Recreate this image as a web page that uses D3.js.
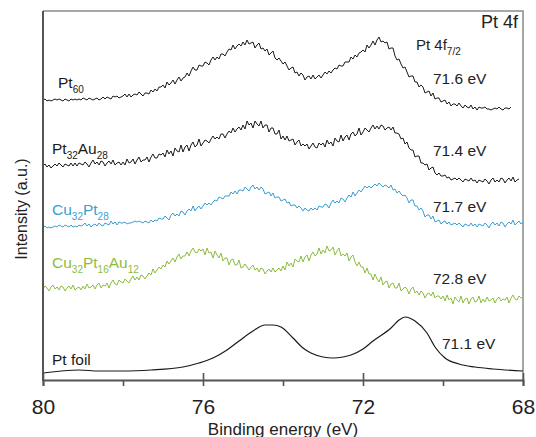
<!DOCTYPE html>
<html>
<head>
<meta charset="utf-8">
<script src="https://cdn.jsdelivr.net/npm/d3@7"></script>
<style>
  body { margin: 0; background: #fff; }
  svg { display: block; font-family: "Liberation Sans", Arial, sans-serif; }
</style>
</head>
<body>
<div id="chart"></div>
<script>
// binding energy grid (eV): spectra recorded from 80 eV downwards in 0.05 eV steps
const eStart = 80;
const eStep = 0.05;

// Pt60 intensity (a.u., stacked), one row per eV
const pt60 = [
  280,281,279,280,279,280,281,280,281,280,279,281,280,279,281,280,281,280,281,280,
  282,281,280,282,281,280,281,282,280,281,283,281,283,282,281,284,283,284,282,283,
  284,286,283,286,283,285,286,285,288,286,284,287,287,286,290,288,291,289,293,293,
  295,292,298,295,297,300,296,300,303,299,302,303,307,304,309,313,310,310,315,314,
  314,318,317,315,320,323,320,323,321,326,326,324,328,331,330,335,331,334,336,334,
  338,335,340,336,337,338,332,335,337,331,332,329,331,325,327,329,322,320,322,319,
  316,318,314,310,312,313,307,308,304,307,305,300,303,304,301,305,301,303,305,302,
  305,308,306,309,307,310,312,311,315,314,314,318,318,318,323,321,325,323,327,328,
  330,328,335,332,335,339,335,340,343,338,339,337,338,331,332,332,324,320,321,316,
  312,313,308,303,304,304,298,298,293,295,293,287,288,289,284,287,281,282,282,278,
  279,280,276,278,274,276,276,274,277,274,272,275,273,272,275,271,273,270,273,272,
  272,273,271,271,270,271,272,271,273,271,270,272,272,271,273
];

// Pt32Au28
const pt32au28 = [
  214,216,213,215,212,214,216,214,217,215,213,216,215,214,217,214,217,214,217,216,
  215,218,216,213,217,220,216,218,215,219,218,214,217,219,216,220,215,217,218,215,
  218,215,221,217,218,221,216,220,223,218,220,220,223,218,223,226,222,222,226,225,
  227,223,230,226,229,224,232,229,228,235,228,233,235,229,235,238,233,235,241,234,
  237,240,239,237,241,244,241,243,241,246,246,242,246,249,247,252,248,251,253,250,
  255,251,259,255,257,252,259,256,254,259,252,255,255,248,252,252,246,246,250,241,
  244,240,244,239,240,241,235,238,240,234,236,234,236,231,234,237,233,232,237,235,
  237,233,240,236,238,234,242,239,238,245,239,243,245,240,246,248,244,246,252,245,
  248,252,250,248,252,255,251,254,251,255,254,250,252,253,250,253,247,247,246,241,
  242,236,238,232,230,230,223,224,224,217,217,215,216,210,212,213,207,205,207,204,
  204,205,202,203,200,201,202,200,202,200,198,201,200,199,202,199,200,197,200,199,
  198,201,199,196,200,202,198,200,198,202,201,197,200,202,199,203,198,200,201
];

// Cu32Pt28
const cu32pt28 = [
  153,154,152,153,152,153,154,153,155,154,153,155,154,153,155,153,154,153,155,154,
  155,157,154,156,153,155,156,154,157,155,154,157,156,155,159,156,158,155,158,157,
  157,158,156,157,157,158,159,158,159,158,157,159,158,157,160,158,160,159,162,161,
  161,164,162,160,165,167,164,166,164,169,168,165,169,171,169,174,169,172,174,171,
  174,177,175,177,175,178,180,179,183,182,181,184,184,184,188,186,189,186,190,190,
  189,193,191,189,193,195,191,193,190,193,191,186,187,188,184,187,182,183,183,179,
  180,181,177,178,174,175,175,172,174,172,169,172,170,169,172,170,172,170,174,173,
  173,176,175,172,177,180,177,179,177,182,181,178,182,185,183,188,184,187,190,188,
  191,194,192,194,192,194,196,194,197,195,193,195,194,192,195,190,191,187,189,186,
  184,185,182,177,180,180,174,174,170,172,169,163,165,165,161,164,158,159,160,156,
  158,159,156,158,155,156,157,155,157,155,153,156,155,154,157,154,156,153,156,155,
  154,157,155,152,156,158,155,157,154,158,157,153,156,158,156,160,155,157,159,156,
  158
];

// Cu32Pt16Au12
const cu32pt16au12 = [
  91,94,92,89,93,95,91,93,90,94,93,89,92,94,91,95,90,92,93,90,
  94,91,96,92,93,95,91,95,97,92,95,94,97,92,97,100,96,95,100,98,
  97,101,99,97,101,104,100,103,100,105,104,101,104,107,105,111,107,110,113,111,
  115,113,119,116,119,122,118,123,126,121,124,124,128,124,129,132,128,127,131,129,
  131,125,132,127,128,122,129,125,122,127,119,122,122,115,120,121,115,115,120,112,
  113,116,113,110,113,115,110,112,108,112,111,106,109,111,108,112,108,110,112,109,
  114,110,118,114,117,113,121,119,118,124,118,123,125,119,125,128,124,126,132,126,
  130,127,134,129,130,133,125,129,132,124,126,124,127,119,123,125,118,114,118,113,
  113,107,112,106,106,100,106,101,98,103,95,98,99,92,96,97,92,92,97,89,
  91,93,91,86,91,93,87,89,85,89,87,82,86,87,84,88,82,84,84,81,
  84,79,85,80,82,76,83,80,78,84,77,81,82,76,81,83,78,79,84,77,
  81,78,83,79,80,82,77,81,83,79,81,80,83,77,82,85,81,80,84,82,
  82
];

// Pt foil (smooth reference), read at uneven energies
const foilEnergy = [80, 79.1, 78.6, 78.0, 77.3, 76.5, 76.1, 75.75, 75.4, 75.1, 74.75, 74.45, 74.25, 74.05,
  73.75, 73.5, 73.3, 73.0, 72.75, 72.5, 72.3, 72.0, 71.75, 71.3, 71.1, 70.95, 70.7, 70.4, 70.2, 69.95,
  69.6, 69.2, 68.75, 68.0];
const foilValue = [7, 10, 9, 9, 10, 13, 17, 22, 30, 39, 49, 55, 55, 53,
  42, 32, 27, 23, 22, 23, 25, 31, 39, 52, 60, 63, 59, 47, 33, 22,
  16, 13, 11, 9];

// labels
const seriesLabels = [
  {key: 'pt60', parts: [['Pt', 0], ['60', 1]], color: '#1a1a1a', eV: '71.6 eV'},
  {key: 'pt32au28', parts: [['Pt', 0], ['32', 1], ['Au', 0], ['28', 1]], color: '#1a1a1a', eV: '71.4 eV'},
  {key: 'cu32pt28', parts: [['Cu', 0], ['32', 1], ['Pt', 0], ['28', 1]], color: '#3b9fd4', eV: '71.7 eV'},
  {key: 'cu32pt16au12', parts: [['Cu', 0], ['32', 1], ['Pt', 0], ['16', 1], ['Au', 0], ['12', 1]], color: '#8dbd3e', eV: '72.8 eV'},
  {key: 'foil', parts: [['Pt foil', 0]], color: '#1a1a1a', eV: '71.1 eV'}
];
const labelY = [88, 154, 215, 268, 365];
const eVY = [84, 156, 212, 284, 349];
const eVX = [433, 433, 433, 433, 442];

const majorTicks = [80, 76, 72, 68];
const minorTicks = [78, 74, 70];

// turn an intensity array into points on the energy grid
function toPoints(values) {
  return values.map((v, i) => ({e: +(eStart - i * eStep).toFixed(2), v: v}));
}

const curves = [
  {points: toPoints(pt60), color: '#1a1a1a', curve: d3.curveLinear, w: 1},
  {points: toPoints(pt32au28), color: '#1a1a1a', curve: d3.curveLinear, w: 1},
  {points: toPoints(cu32pt28), color: '#3b9fd4', curve: d3.curveLinear, w: 1},
  {points: toPoints(cu32pt16au12), color: '#8dbd3e', curve: d3.curveLinear, w: 1},
  {points: foilEnergy.map((e, i) => ({e: e, v: foilValue[i]})), color: '#1a1a1a', curve: d3.curveMonotoneX, w: 1.2}
];

// layout
const width = 536;
const height = 437;
const margin = {t: 11, r: 13, b: 57, l: 43};

const x = d3.scaleLinear()
  .domain([80, 68])
  .range([margin.l, width - margin.r]);

const y = d3.scaleLinear()
  .domain([0, 369])
  .range([height - margin.b, margin.t]);

const svg = d3.select('#chart')
  .append('svg')
  .attr('width', width)
  .attr('height', height);

// frame: light top / right border
svg.append('path')
  .attr('d', `M${x(80)},${y(369)}H${x(68)}V${y(0)}`)
  .attr('fill', 'none')
  .attr('stroke', '#8a8a8a')
  .attr('stroke-width', 1.5);

// spectra
const line = d3.line()
  .x(d => x(d.e))
  .y(d => y(d.v));

svg.selectAll('.spectrum')
  .data(curves)
  .enter()
  .append('path')
  .classed('spectrum', true)
  .attr('d', d => line.curve(d.curve)(d.points))
  .attr('fill', 'none')
  .attr('stroke', d => d.color)
  .attr('stroke-width', d => d.w)
  .attr('stroke-linejoin', 'round');

// bottom axis: majors cross the line, minors point outward
const axisG = svg.append('g')
  .attr('transform', `translate(0,${y(0)})`);

axisG.call(d3.axisBottom(x)
    .tickValues(majorTicks.concat(minorTicks))
    .tickSize(6)
    .tickPadding(13)
    .tickFormat(d => majorTicks.includes(d) ? d : ''))
  .call(g => g.select('.domain').attr('stroke', '#555').attr('stroke-width', 2))
  .call(g => g.selectAll('.tick line').attr('stroke', '#555').attr('stroke-width', 1.6))
  .call(g => g.selectAll('.tick text')
    .attr('font-size', 21)
    .attr('fill', '#222')
    .style('font-family', '"Liberation Sans", Arial, sans-serif'));

svg.append('g')
  .attr('transform', `translate(0,${y(0)})`)
  .call(d3.axisTop(x).tickValues(majorTicks).tickSize(7).tickFormat(''))
  .call(g => g.select('.domain').remove())
  .call(g => g.selectAll('.tick line').attr('stroke', '#555').attr('stroke-width', 1.6));

// left axis line
svg.append('line')
  .attr('x1', x(80)).attr('x2', x(80))
  .attr('y1', y(369)).attr('y2', y(0) + 1)
  .attr('stroke', '#555')
  .attr('stroke-width', 2);

// axis titles
svg.append('text')
  .attr('x', (x(80) + x(68)) / 2)
  .attr('y', 435)
  .attr('text-anchor', 'middle')
  .attr('font-size', 17)
  .attr('fill', '#222')
  .text('Binding energy (eV)');

svg.append('text')
  .attr('transform', `translate(27,${209}) rotate(-90)`)
  .attr('text-anchor', 'middle')
  .attr('font-size', 16)
  .attr('fill', '#222')
  .text('Intensity (a.u.)');

// sample labels with subscripts
const nameText = svg.selectAll('.name')
  .data(seriesLabels)
  .enter()
  .append('text')
  .classed('name', true)
  .attr('x', 52)
  .attr('y', (d, i) => labelY[i])
  .attr('font-size', 15.5)
  .attr('fill', d => d.color);

nameText.each(function(d) {
  const t = d3.select(this);
  let sub = 0;
  d.parts.forEach(p => {
    const dy = p[1] === sub ? 0 : (p[1] ? 5 : -5);
    sub = p[1];
    t.append('tspan')
      .attr('dy', dy)
      .attr('font-size', p[1] ? 10 : 15.5)
      .text(p[0]);
  });
});
// first label sits a little to the right
nameText.filter(d => d.key === 'pt60').attr('x', 58);

// binding energy of the 4f7/2 peak
svg.selectAll('.ev')
  .data(seriesLabels)
  .enter()
  .append('text')
  .classed('ev', true)
  .attr('x', (d, i) => eVX[i])
  .attr('y', (d, i) => eVY[i])
  .attr('font-size', 15.5)
  .attr('fill', '#222')
  .text(d => d.eV);

// core level annotations
svg.append('text')
  .attr('x', 518)
  .attr('y', 28)
  .attr('text-anchor', 'end')
  .attr('font-size', 18)
  .attr('fill', '#222')
  .text('Pt 4f');

const sub72 = svg.append('text')
  .attr('x', 416)
  .attr('y', 50)
  .attr('font-size', 15)
  .attr('fill', '#222');
sub72.append('tspan').text('Pt 4f');
sub72.append('tspan').attr('dy', 5).attr('font-size', 10).text('7/2');
</script>
</body>
</html>
